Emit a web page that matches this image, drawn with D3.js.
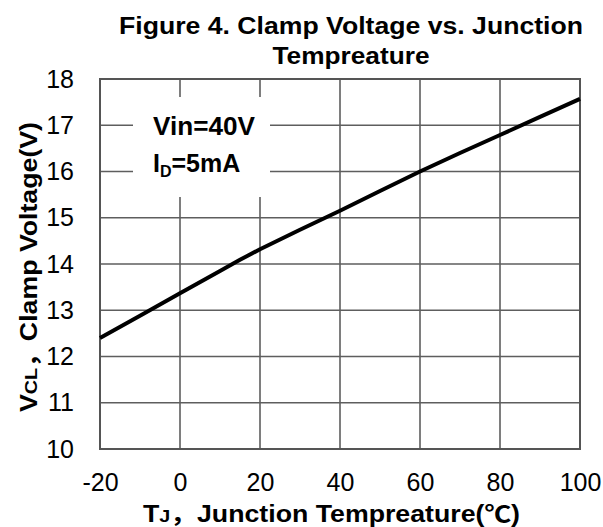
<!DOCTYPE html>
<html>
<head>
<meta charset="utf-8">
<script src="https://cdn.jsdelivr.net/npm/d3@7"></script>
<style>
  html, body { margin: 0; padding: 0; background: #fff; }
  svg { display: block; }
  text { font-family: "Liberation Sans", Arial, "Noto Sans CJK SC", sans-serif; fill: #000; }
</style>
</head>
<body>
<svg id="chart" width="603" height="527"></svg>
<script>
// ---- data ----
const temps = [-20, -10, 0, 10, 15, 20, 30, 40, 50, 60, 70, 80, 90, 100];
const clampV = [12.40, 12.88, 13.37, 13.85, 14.09, 14.32, 14.74, 15.15, 15.58, 16.00, 16.40, 16.79, 17.18, 17.57];
const xTicks = [-20, 0, 20, 40, 60, 80, 100];
const yTicks = [10, 11, 12, 13, 14, 15, 16, 17, 18];
const titleLines = ["Figure 4. Clamp Voltage vs. Junction", "Tempreature"];
const legendLines = ["Vin=40V", "I_D=5mA"];

// ---- layout ----
const svg = d3.select("#chart");
const x = d3.scaleLinear().domain([-20, 100]).range([100, 580]);
const y = d3.scaleLinear().domain([10, 18]).range([449, 79]);

// grid
const grid = svg.append("g");
grid.selectAll("line.v").data(xTicks.slice(1, -1)).join("line")
  .attr("x1", d => x(d)).attr("x2", d => x(d))
  .attr("y1", y(18)).attr("y2", y(10))
  .attr("stroke", "#5e5e5e").attr("stroke-width", 1.6);
grid.selectAll("line.h").data(yTicks.slice(1, -1)).join("line")
  .attr("x1", x(-20)).attr("x2", x(100))
  .attr("y1", d => y(d)).attr("y2", d => y(d))
  .attr("stroke", "#5e5e5e").attr("stroke-width", 1.6);

// legend background (interrupts grid)
svg.append("rect")
  .attr("x", 133).attr("y", 97).attr("width", 137).attr("height", 100)
  .attr("fill", "#fff");

// border
svg.append("rect")
  .attr("x", x(-20)).attr("y", y(18))
  .attr("width", x(100) - x(-20)).attr("height", y(10) - y(18))
  .attr("fill", "none").attr("stroke", "#555").attr("stroke-width", 2);

// data line
const line = d3.line().x((d, i) => x(temps[i])).y(d => y(d));
svg.append("path").datum(clampV)
  .attr("d", line)
  .attr("fill", "none").attr("stroke", "#000").attr("stroke-width", 4)
  .attr("stroke-linejoin", "round");

// axes
const fmt = d => String(d);
const xAxis = svg.append("g").attr("transform", `translate(0,${y(10)})`)
  .call(d3.axisBottom(x).tickValues(xTicks).tickSize(0).tickPadding(24).tickFormat(fmt));
xAxis.select(".domain").remove();
xAxis.selectAll("text").attr("font-size", 25).attr("font-family", "Liberation Sans, Arial, sans-serif").attr("fill", "#000");

const yAxis = svg.append("g").attr("transform", `translate(${x(-20)},0)`)
  .call(d3.axisLeft(y).tickValues(yTicks).tickSize(0).tickPadding(26).tickFormat(fmt));
yAxis.select(".domain").remove();
yAxis.selectAll("text").attr("font-size", 25).attr("font-family", "Liberation Sans, Arial, sans-serif").attr("fill", "#000");

// title
svg.append("text").attr("x", 351).attr("y", 34)
  .attr("text-anchor", "middle").attr("font-weight", "bold").attr("font-size", 23.5)
  .attr("textLength", 464).attr("lengthAdjust", "spacingAndGlyphs")
  .text(titleLines[0]);
svg.append("text").attr("x", 351).attr("y", 64)
  .attr("text-anchor", "middle").attr("font-weight", "bold").attr("font-size", 23.5)
  .attr("textLength", 157).attr("lengthAdjust", "spacingAndGlyphs")
  .text(titleLines[1]);

// legend text
svg.append("text").attr("x", 153).attr("y", 135)
  .attr("font-weight", "bold").attr("font-size", 25)
  .attr("textLength", 102).attr("lengthAdjust", "spacingAndGlyphs")
  .text(legendLines[0]);
const [lMain, lSub] = legendLines[1].split("_");
const rest = lSub.slice(1);
const lg = svg.append("text").attr("x", 153).attr("y", 172)
  .attr("font-weight", "bold").attr("font-size", 25);
lg.append("tspan").text(lMain);
lg.append("tspan").attr("font-size", 16).attr("dy", 5).text(lSub[0]);
lg.append("tspan").attr("dy", -5).text(rest);

// x axis title
const xt = svg.append("text").attr("x", 143).attr("y", 522)
  .attr("font-weight", "bold").attr("font-size", 23)
  .attr("textLength", 377).attr("lengthAdjust", "spacingAndGlyphs");
xt.append("tspan").text("T");
xt.append("tspan").attr("font-size", 17).text("J");
xt.append("tspan").text("，Junction Tempreature(℃)");

// y axis title
const yt = svg.append("text")
  .attr("transform", "translate(37,412) rotate(-90)")
  .attr("font-weight", "bold").attr("font-size", 23)
  .attr("textLength", 290).attr("lengthAdjust", "spacingAndGlyphs");
yt.append("tspan").text("V");
yt.append("tspan").attr("font-size", 17).text("CL");
yt.append("tspan").text("，Clamp Voltage(V)");
</script>
</body>
</html>
